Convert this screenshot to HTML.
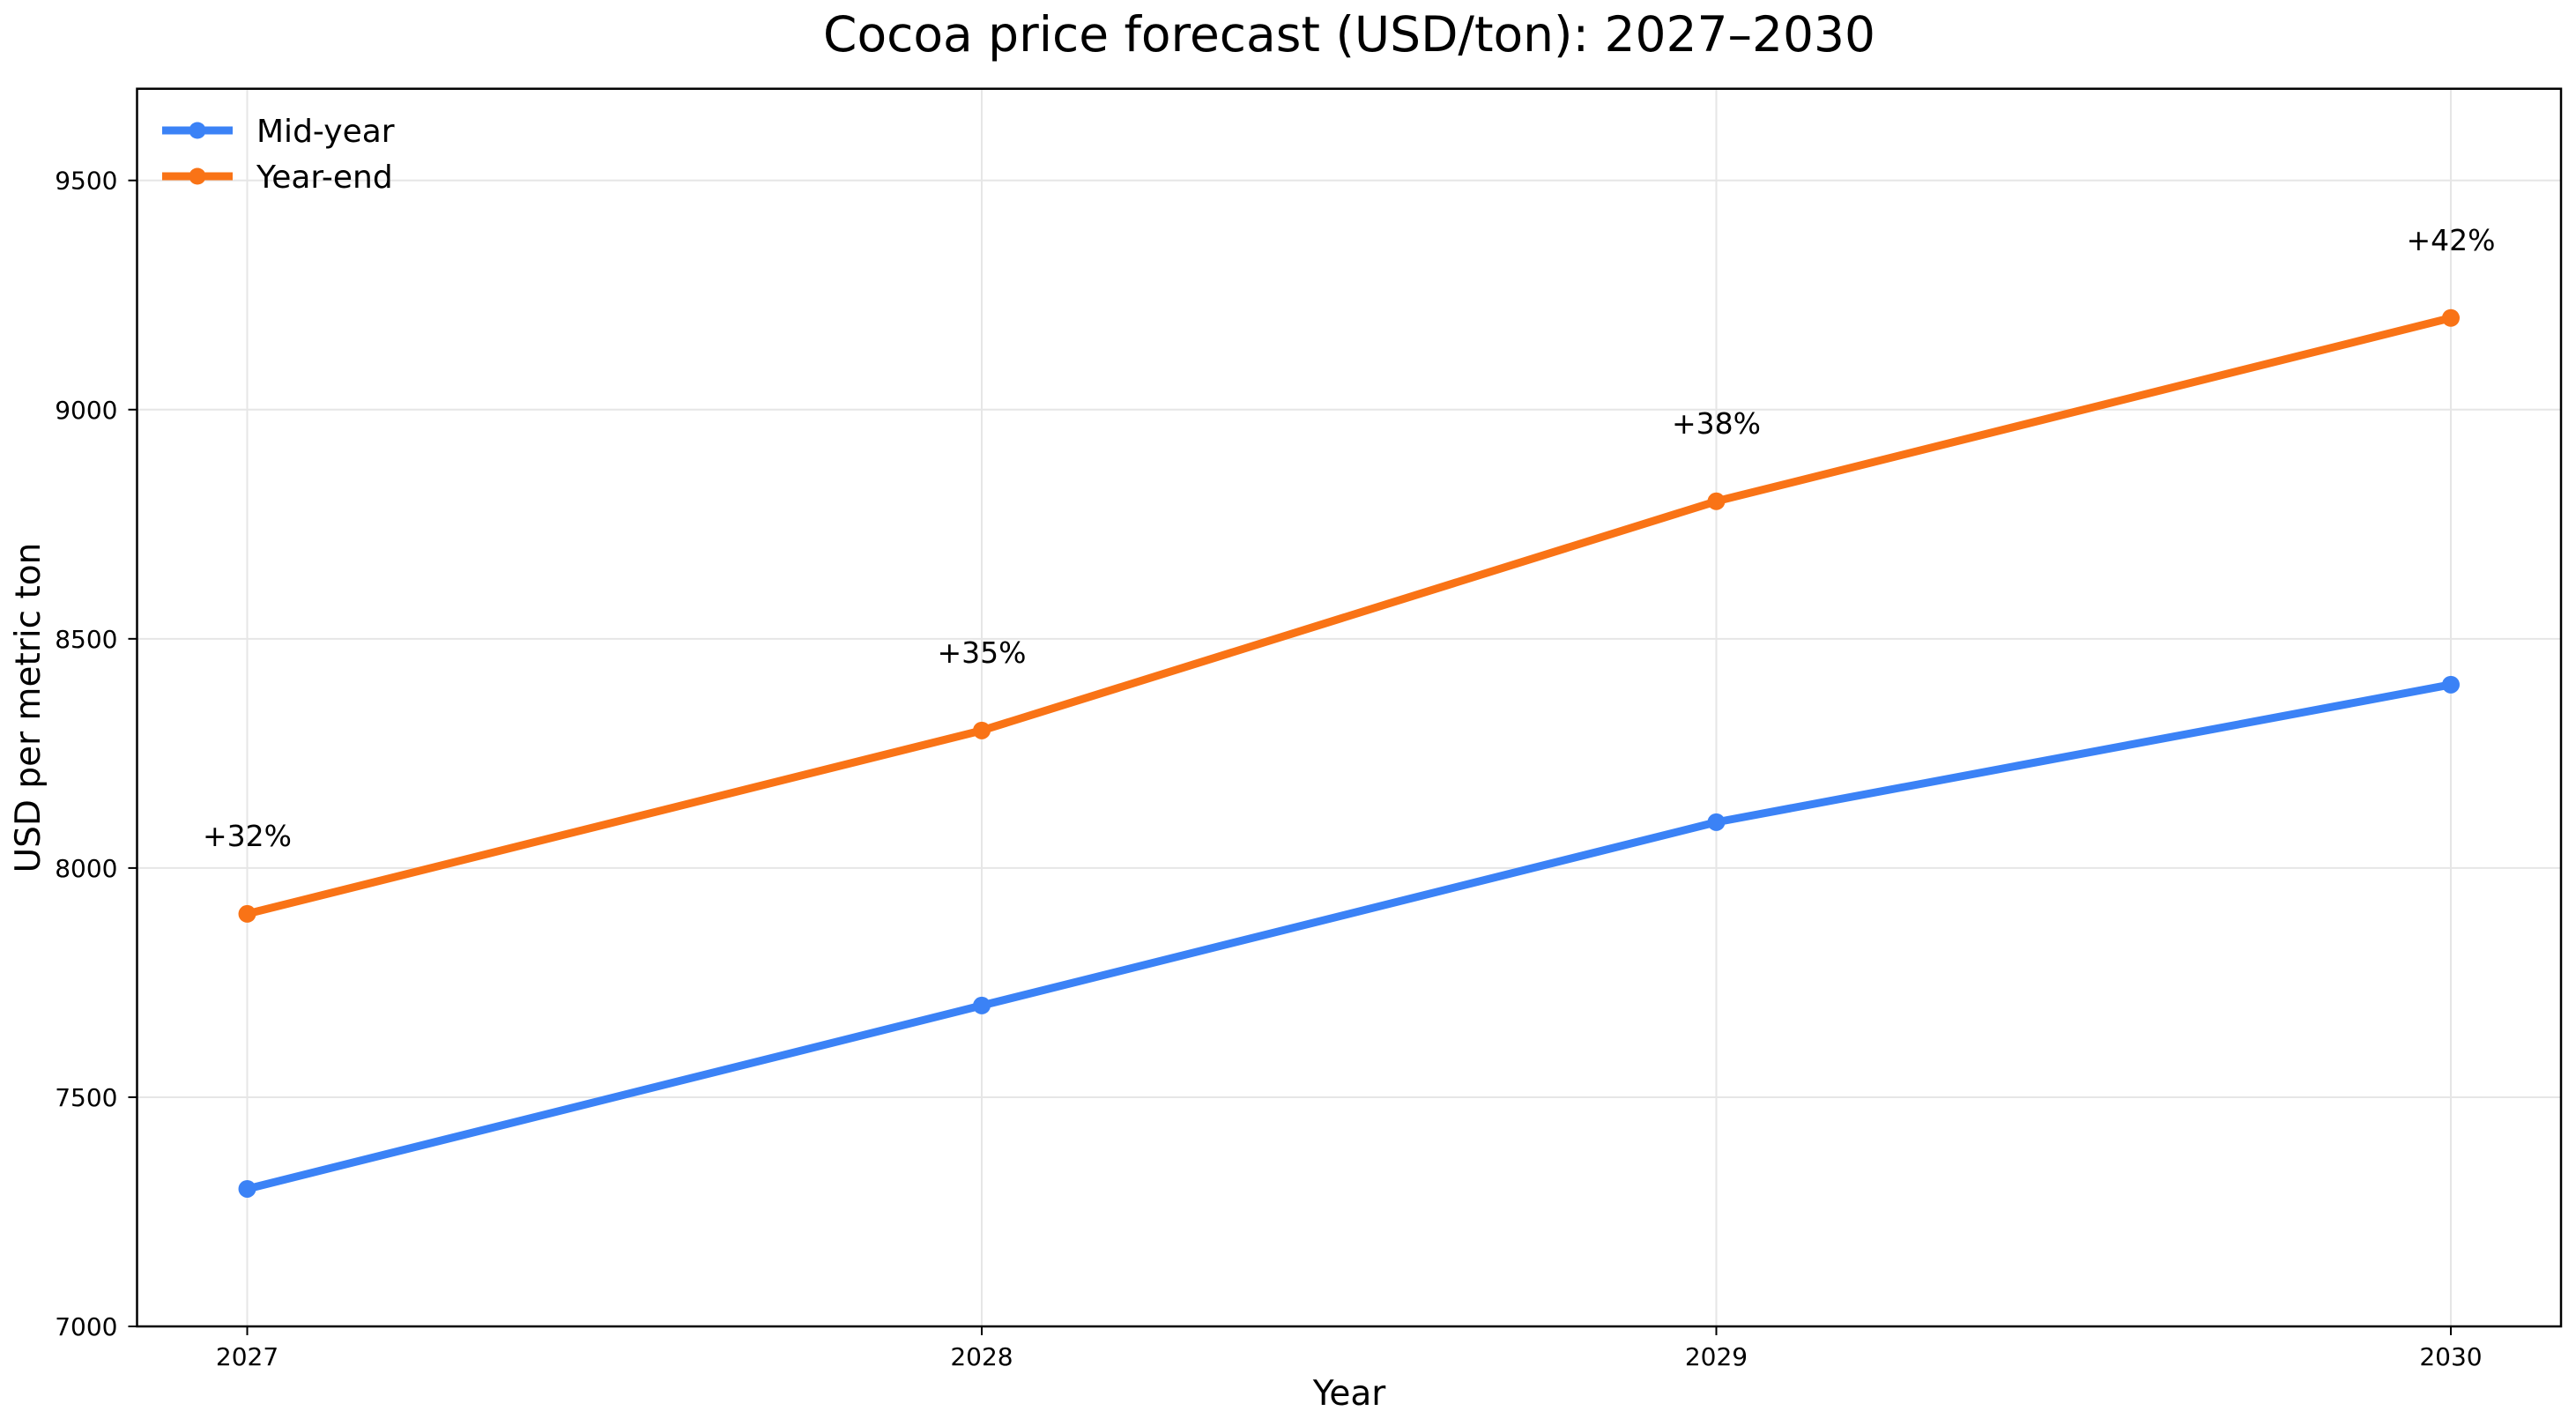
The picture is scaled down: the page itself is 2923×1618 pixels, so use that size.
<!DOCTYPE html>
<html><head><meta charset="utf-8"><style>
body{margin:0;background:#fff}
svg{display:block;font-family:"DejaVu Sans","Liberation Sans",sans-serif}
</style></head><body>
<svg id="chart" width="2923" height="1618" viewBox="0 0 2923 1618">
<text x="1531" y="58" font-size="55" text-anchor="middle">Cocoa price forecast (USD/ton): 2027–2030</text>
<g id="grid"></g>
<g id="axes"></g>
<g id="series"></g>
<rect x="155.5" y="100.7" width="2750.5" height="1404.3" fill="none" stroke="#000" stroke-width="2.5"/>
<text x="1531" y="1594" font-size="39" text-anchor="middle">Year</text>
<text x="0" y="0" font-size="39" text-anchor="middle" transform="translate(45,803) rotate(-90)">USD per metric ton</text>
<g>
<g>
<line x1="184" y1="148" x2="264" y2="148" stroke="#3b82f6" stroke-width="9"/>
<circle cx="224" cy="148" r="9.5" fill="#3b82f6"/>
<text x="291" y="161" font-size="36">Mid-year</text></g>
<g>
<line x1="184" y1="200" x2="264" y2="200" stroke="#f97316" stroke-width="9"/>
<circle cx="224" cy="200" r="9.5" fill="#f97316"/>
<text x="291" y="213" font-size="36">Year-end</text></g>
</g>
</svg>
<script>
const years=[2027,2028,2029,2030];
const midYear=[7300,7700,8100,8400];
const yearEnd=[7900,8300,8800,9200];
const changeLabels=["+32%","+35%","+38%","+42%"];
const yTicks=[7000,7500,8000,8500,9000,9500];
const NS="http://www.w3.org/2000/svg";
const L=155.5,R=2906,T=100.7,B=1505;
const xMin=2026.85,xMax=2030.15,yMin=7000,yMax=9700;
const xs=v=>L+(v-xMin)/(xMax-xMin)*(R-L);
const ys=v=>B-(v-yMin)/(yMax-yMin)*(B-T);
function mk(tag,attrs,parent){const e=document.createElementNS(NS,tag);for(const k in attrs)e.setAttribute(k,attrs[k]);parent.appendChild(e);return e;}
const grid=document.getElementById('grid'),axes=document.getElementById('axes'),ser=document.getElementById('series');
years.forEach(y=>{
 const g=mk('line',{x1:xs(y),x2:xs(y),y1:T,y2:B,stroke:'#e6e6e6','stroke-width':2},grid);
 
 
 const t=mk('line',{x1:xs(y),x2:xs(y),y1:B,y2:B+10,stroke:'#000','stroke-width':2},axes);
 
 
 const l=mk('text',{x:xs(y),y:B+44,'font-size':28,'text-anchor':'middle'},axes);
 l.textContent=y;
 
 
});
yTicks.forEach(v=>{
 const g=mk('line',{x1:L,x2:R,y1:ys(v),y2:ys(v),stroke:'#e6e6e6','stroke-width':2},grid);
 
 
 const t=mk('line',{x1:L-10,x2:L,y1:ys(v),y2:ys(v),stroke:'#000','stroke-width':2},axes);
 
 
 const l=mk('text',{x:L-22,y:ys(v)+10,'font-size':28,'text-anchor':'end'},axes);
 l.textContent=v;
 
 
});
function drawSeries(vals,color,name){
 const p=mk('polyline',{points:vals.map((v,i)=>xs(years[i])+','+ys(v)).join(' '),fill:'none',stroke:color,'stroke-width':9,'stroke-linejoin':'round','stroke-linecap':'round'},ser);
 
 
 vals.forEach((v,i)=>{
  const c=mk('circle',{cx:xs(years[i]),cy:ys(v),r:10,fill:color},ser);
  
  
 });
}
drawSeries(midYear,'#3b82f6','mid-year');
drawSeries(yearEnd,'#f97316','year-end');
yearEnd.forEach((v,i)=>{
 const t=mk('text',{x:xs(years[i]),y:ys(v)-77,'font-size':33,'text-anchor':'middle'},ser);
 t.textContent=changeLabels[i];
 
 
});
</script>
</body></html>
